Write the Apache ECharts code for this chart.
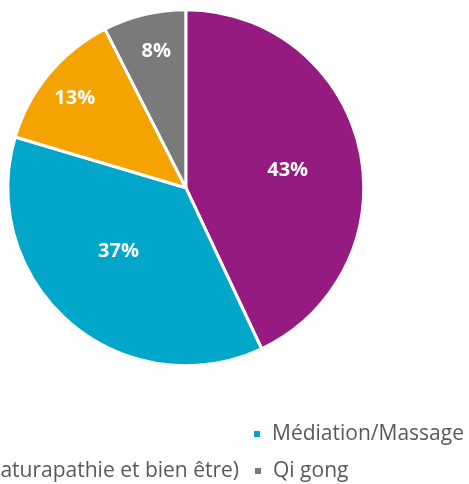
<!DOCTYPE html>
<html>
<head>
<meta charset="utf-8">
<script src="https://cdn.jsdelivr.net/npm/echarts@6/dist/echarts.min.js"></script>
<style>
html,body{margin:0;padding:0;background:#fff;}
#chart{width:469px;height:484px;}
</style>
</head>
<body>
<div id="chart"></div>
<script>
// Data
var categories = ['Ateliers collectifs', 'Médiation/Massage', 'Soins (naturapathie et bien être)', 'Qi gong'];
var values = [43.0, 36.6, 12.9, 7.5];

// Styling (kept separate from data)
var colors = ['#951B80', '#01A6C8', '#F5A300', '#7A7A7A'];
var labelRadiusFrac = [0.573, 0.519, 0.799, 0.783];
var labelNudge = [[-1, 6], [-5, -9], [2, 5], [4, 4]];
var CX = 185.8, CY = 187.7, R = 178;

var chart = echarts.init(document.getElementById('chart'), null, {renderer: 'canvas'});

var pieData = categories.map(function (c, i) {
  return { name: c, value: values[i], itemStyle: { color: colors[i] } };
});

var legendText = { fontFamily: 'Open Sans', fontSize: 21, color: '#595959', lineHeight: 21, padding: [3, 0, 0, 6] };
function legendBase(extra) {
  var o = { itemWidth: 8, itemHeight: 8, icon: 'rect', itemGap: 0, padding: 0, textStyle: legendText, selectedMode: false };
  for (var k in extra) o[k] = extra[k];
  return o;
}

var option = {
  backgroundColor: '#ffffff',
  animation: false,
  legend: [
    legendBase({ data: [categories[1]], left: 252, top: 422 }),
    legendBase({ data: [categories[2]], right: 230, top: 459 }),
    legendBase({ data: [categories[3]], left: 253, top: 459 })
  ],
  series: [{
    type: 'pie',
    center: [CX, CY],
    radius: [0, R],
    startAngle: 90,
    clockwise: true,
    data: pieData,
    itemStyle: { borderColor: '#ffffff', borderWidth: 3 },
    label: {
      show: true,
      position: 'inside',
      formatter: function (p) { return Math.round(p.value) + '%'; },
      color: '#ffffff',
      fontFamily: 'Open Sans',
      fontWeight: 'bold',
      fontSize: 20
    },
    labelLine: { show: false },
    labelLayout: function (params) {
      var r = params.labelRect;
      var lx = r.x + r.width / 2, ly = r.y + r.height / 2;
      var i = params.dataIndex;
      var k = labelRadiusFrac[i] / 0.5 - 1;
      return { dx: (lx - CX) * k + labelNudge[i][0], dy: (ly - CY) * k + labelNudge[i][1] };
    },
    emphasis: { disabled: true }
  }]
};
chart.setOption(option);
</script>
</body>
</html>
